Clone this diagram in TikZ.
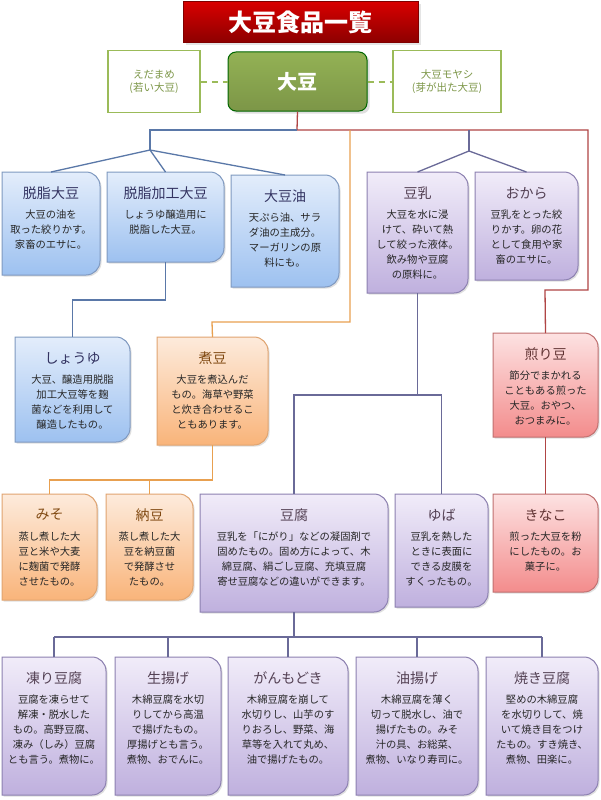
\documentclass[tikz,border=0pt]{standalone}
\usepackage{fontspec}
\setmainfont{Noto Sans CJK JP}
\usetikzlibrary{shadows}
\definecolor{blueB}{HTML}{7F99C0}\definecolor{blueT}{HTML}{E3EDFB}\definecolor{blueD}{HTML}{9DC1F0}
\definecolor{orB}{HTML}{E0A470}\definecolor{orT}{HTML}{FDEBDC}\definecolor{orD}{HTML}{F9B47A}
\definecolor{puB}{HTML}{8C80B0}\definecolor{puT}{HTML}{F1ECF9}\definecolor{puD}{HTML}{BFB0DE}
\definecolor{reB}{HTML}{C07070}\definecolor{reT}{HTML}{FDE2E2}\definecolor{reD}{HTML}{F38C8C}
\definecolor{lnB}{HTML}{5A78A8}\definecolor{lnO}{HTML}{E8A050}\definecolor{lnR}{HTML}{B04545}
\definecolor{lnP}{HTML}{6A6A98}\definecolor{grn}{HTML}{9BBB59}
\tikzset{
 bluebox/.style={draw=blueB,line width=1pt,top color=blueT,bottom color=blueD,drop shadow={opacity=0.25,shadow xshift=1.5pt,shadow yshift=-1.5pt}},
 orbox/.style={draw=orB,line width=1pt,top color=orT,bottom color=orD,drop shadow={opacity=0.25,shadow xshift=1.5pt,shadow yshift=-1.5pt}},
 pubox/.style={draw=puB,line width=1pt,top color=puT,bottom color=puD,drop shadow={opacity=0.25,shadow xshift=1.5pt,shadow yshift=-1.5pt}},
 rebox/.style={draw=reB,line width=1pt,top color=reT,bottom color=reD,drop shadow={opacity=0.25,shadow xshift=1.5pt,shadow yshift=-1.5pt}},
 bluetitle/.style={text=black!70!blue!60!gray,font=\fontsize{14}{16}\selectfont},
 ortitle/.style={text=black!60!orange!70!brown,font=\fontsize{14}{16}\selectfont},
 putitle/.style={text=black!70!violet!50!gray,font=\fontsize{14}{16}\selectfont},
 retitle/.style={text=black!70!red!60!gray,font=\fontsize{14}{16}\selectfont},
 body/.style={align=center,text=black!85,font=\fontsize{10.3}{15}\selectfont,inner sep=0pt},
 ln/.style={line width=1.3pt},
 side/.style={draw=grn,line width=1.5pt,fill=white,text=grn!80!black,align=center,font=\fontsize{10.5}{13}\selectfont},
}
\newcommand\cbox[8]{%
 \path[#6box] (#2,#5) -- (#2,#3) {[rounded corners=14pt] -- (#4,#3) -- (#4,#5)} -- cycle;
 \coordinate (#1-n) at ({(#2+#4)/2},#3);
 \coordinate (#1-s) at ({(#2+#4)/2},#5);
 \node[#6title] (#1-t) at ({(#2+#4)/2},#3+21) {#7};
 \node[body,anchor=north] (#1-b) at ({(#2+#4)/2},#3+38) {#8};}
\begin{document}
\begin{tikzpicture}[x=1pt,y=-1pt]
\useasboundingbox (0,0) rectangle (600,800);
\fill[white] (0,0) rectangle (600,800);
% title
\node[draw=red!50!black,line width=0.8pt,top color=red!85!black,bottom color=red!55!black,minimum width=235pt,minimum height=41pt,text=white,font=\fontsize{24}{26}\selectfont\bfseries,drop shadow={opacity=0.2}] (title) at (300.5,22) {大豆食品一覧};
% soy
\node[draw=green!40!black,line width=1pt,rounded corners=8pt,top color=grn!95!black,bottom color=grn!80!black,minimum width=139pt,minimum height=59pt,text=white,font=\fontsize{20}{22}\selectfont\bfseries,drop shadow={opacity=0.25}] (soy) at (297.5,81.5) {大豆};
\node[side,minimum width=92pt,minimum height=62pt] (eda) at (154,81.5) {えだまめ\\(若い大豆)};
\node[side,minimum width=108pt,minimum height=62pt] (moy) at (447,81.5) {大豆モヤシ\\(芽が出た大豆)};
\draw[grn,line width=2pt,dash pattern=on 6pt off 5pt] (eda.east) -- (soy.west);
\draw[grn,line width=2pt,dash pattern=on 6pt off 5pt] (soy.east) -- (moy.west);
% row 1
\cbox{dd}{2}{172}{100}{275}{blue}{脱脂大豆}{大豆の油を\\取った絞りかす。\\家畜のエサに。}
\cbox{dk}{107}{172}{224}{262}{blue}{脱脂加工大豆}{しょうゆ醸造用に\\脱脂した大豆。}
\cbox{oil}{231}{175}{339}{287}{blue}{大豆油}{天ぷら油、サラ\\ダ油の主成分。\\マーガリンの原\\料にも。}
\cbox{tn}{367}{172}{468}{293}{pu}{豆乳}{大豆を水に浸\\けて、砕いて熱\\して絞った液体。\\飲み物や豆腐\\の原料に。}
\cbox{ok}{475}{172}{578}{280}{pu}{おから}{豆乳をとった絞\\りかす。卵の花\\として食用や家\\畜のエサに。}
% row 2
\cbox{sy}{15}{337}{130}{442}{blue}{しょうゆ}{大豆、醸造用脱脂\\加工大豆等を麹\\菌などを利用して\\醸造したもの。}
\cbox{nm}{157}{337}{268}{445}{or}{煮豆}{大豆を煮込んだ\\もの。海草や野菜\\と炊き合わせるこ\\ともあります。}
\cbox{im}{493}{333}{598}{437}{re}{煎り豆}{節分でまかれる\\こともある煎った\\大豆。おやつ、\\おつまみに。}
% row 3
\cbox{ms}{2}{494}{97}{600}{or}{みそ}{蒸し煮した大\\豆と米や大麦\\に麹菌で発酵\\させたもの。}
\cbox{nt}{106}{494}{193}{600}{or}{納豆}{蒸し煮した大\\豆を納豆菌\\で発酵させ\\たもの。}
\cbox{tf}{200}{494}{388}{612}{pu}{豆腐}{豆乳を「にがり」などの凝固剤で\\固めたもの。固め方によって、木\\綿豆腐、絹ごし豆腐、充填豆腐\\寄せ豆腐などの違いができます。}
\cbox{yb}{395}{494}{488}{607}{pu}{ゆば}{豆乳を熱した\\ときに表面に\\できる皮膜を\\すくったもの。}
\cbox{kn}{493}{494}{598}{592}{re}{きなこ}{煎った大豆を粉\\にしたもの。お\\菓子に。}
% row 4
\cbox{kt}{2}{657}{106}{795}{pu}{凍り豆腐}{豆腐を凍らせて\\解凍・脱水した\\もの。高野豆腐、\\凍み（しみ）豆腐\\とも言う。煮物に。}
\cbox{na}{115}{657}{221}{795}{pu}{生揚げ}{木綿豆腐を水切\\りしてから高温\\で揚げたもの。\\厚揚げとも言う。\\煮物、おでんに。}
\cbox{gm}{228}{657}{348}{795}{pu}{がんもどき}{木綿豆腐を崩して\\水切りし、山芋のす\\りおろし、野菜、海\\草等を入れて丸め、\\油で揚げたもの。}
\cbox{ab}{356}{657}{478}{795}{pu}{油揚げ}{木綿豆腐を薄く\\切って脱水し、油で\\揚げたもの。みそ\\汁の具、お総菜、\\煮物、いなり寿司に。}
\cbox{yk}{486}{657}{598}{795}{pu}{焼き豆腐}{堅めの木綿豆腐\\を水切りして、焼\\いて焼き目をつけ\\たもの。すき焼き、\\煮物、田楽に。}
% connectors
\coordinate (jR) at (297,130);
\coordinate (jB) at (150,150);
\coordinate (jP) at (469,151);
\draw[ln,lnR] (soy.south) -- (jR) -- (588,130) -- (588,290) -- (545,290) -- (im-n);
\draw[ln,lnB] (jR) -- (150,130) -- (jB);
\draw[ln,lnB] (jB) -- (dd-n); \draw[ln,lnB] (jB) -- (dk-n); \draw[ln,lnB] (jB) -- (oil-n);
\draw[ln,lnO] (350,130) -- (350,322) -- (212,322) -- (nm-n);
\draw[ln,lnP] (469,130) -- (jP);
\draw[ln,lnP] (jP) -- (tn-n); \draw[ln,lnP] (jP) -- (ok-n);
\draw[ln,lnB] (dk-s) -- (165.5,300) -- (72.5,300) -- (sy-n);
\draw[ln,lnO] (nm-s) -- (212.5,480) -- (49.5,480) -- (ms-n);
\draw[ln,lnO] (149.5,480) -- (nt-n);
\draw[ln,lnP] (tn-s) -- (417.5,395) -- (294,395) -- (tf-n);
\draw[ln,lnP] (417.5,395) -- (441.5,395) -- (yb-n);
\draw[ln,lnR] (im-s) -- (kn-n);
\draw[ln,lnP] (tf-s) -- (294,637);
\draw[ln,lnP] (54,637) -- (542,637);
\foreach \b in {kt,na,gm,ab,yk}{\draw[ln,lnP] (\b-n) -- (\b-n |- 0,637);}
\end{tikzpicture}
\end{document}
